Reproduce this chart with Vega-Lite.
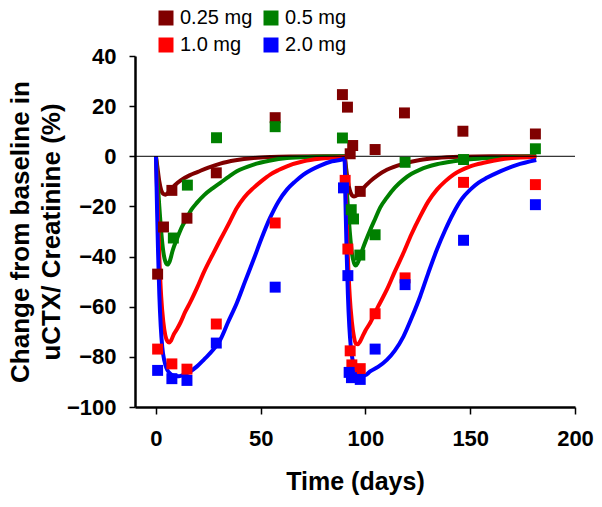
{
  "$schema": "https://vega.github.io/schema/vega-lite/v6.json",
  "autosize": {"type": "none"},
  "width": 440,
  "height": 351,
  "padding": {"left": 135, "top": 56, "right": 27, "bottom": 100},
  "background": "white",
  "config": {
    "view": {"stroke": null},
    "font": "Liberation Sans",
    "axis": {
      "grid": false,
      "domainColor": "black",
      "domainWidth": 2.5,
      "tickColor": "black",
      "tickWidth": 1.5,
      "labelColor": "black",
      "labelFont": "Liberation Sans",
      "labelFontWeight": "bold",
      "labelFontSize": 22,
      "titleFont": "Liberation Sans",
      "titleFontWeight": "bold",
      "titleColor": "black",
      "labelFlush": false,
      "labelOverlap": false
    }
  },
  "datasets": {
    "pts": [
      {"dose": "0.25 mg", "day": 0.8, "pct": -47},
      {"dose": "0.25 mg", "day": 3.6, "pct": -28.2},
      {"dose": "0.25 mg", "day": 7.6, "pct": -13.6},
      {"dose": "0.25 mg", "day": 14.8, "pct": -24.7},
      {"dose": "0.25 mg", "day": 28.8, "pct": -6.6},
      {"dose": "0.25 mg", "day": 56.9, "pct": 15.4},
      {"dose": "0.25 mg", "day": 89, "pct": 24.6},
      {"dose": "0.25 mg", "day": 91.4, "pct": 19.6},
      {"dose": "0.25 mg", "day": 93.9, "pct": 4.3},
      {"dose": "0.25 mg", "day": 92.7, "pct": 1},
      {"dose": "0.25 mg", "day": 97.5, "pct": -14},
      {"dose": "0.25 mg", "day": 104.6, "pct": 2.7},
      {"dose": "0.25 mg", "day": 118.6, "pct": 17.3},
      {"dose": "0.25 mg", "day": 146.5, "pct": 10},
      {"dose": "0.25 mg", "day": 181.1, "pct": 8.9},
      {"dose": "0.5 mg", "day": 8.3, "pct": -32.6},
      {"dose": "0.5 mg", "day": 15, "pct": -11.5},
      {"dose": "0.5 mg", "day": 28.9, "pct": 7.4},
      {"dose": "0.5 mg", "day": 56.9, "pct": 11.8},
      {"dose": "0.5 mg", "day": 89, "pct": 7.3},
      {"dose": "0.5 mg", "day": 93.2, "pct": -21.3},
      {"dose": "0.5 mg", "day": 94.3, "pct": -25},
      {"dose": "0.5 mg", "day": 97.3, "pct": -39.4},
      {"dose": "0.5 mg", "day": 104.6, "pct": -31.3},
      {"dose": "0.5 mg", "day": 118.9, "pct": -2.4},
      {"dose": "0.5 mg", "day": 146.8, "pct": -1.3},
      {"dose": "0.5 mg", "day": 181.1, "pct": 3},
      {"dose": "1.0 mg", "day": 0.8, "pct": -76.9},
      {"dose": "1.0 mg", "day": 7.6, "pct": -82.8},
      {"dose": "1.0 mg", "day": 14.8, "pct": -84.9},
      {"dose": "1.0 mg", "day": 28.8, "pct": -66.9},
      {"dose": "1.0 mg", "day": 56.9, "pct": -26.6},
      {"dose": "1.0 mg", "day": 90.3, "pct": -9.6},
      {"dose": "1.0 mg", "day": 91.6, "pct": -37},
      {"dose": "1.0 mg", "day": 92.7, "pct": -77.6},
      {"dose": "1.0 mg", "day": 93.5, "pct": -83.2},
      {"dose": "1.0 mg", "day": 97.5, "pct": -84.7},
      {"dose": "1.0 mg", "day": 104.6, "pct": -62.8},
      {"dose": "1.0 mg", "day": 118.9, "pct": -48.5},
      {"dose": "1.0 mg", "day": 146.8, "pct": -10.4},
      {"dose": "1.0 mg", "day": 181.1, "pct": -11.3},
      {"dose": "2.0 mg", "day": 0.8, "pct": -85.4},
      {"dose": "2.0 mg", "day": 7.6, "pct": -88.7},
      {"dose": "2.0 mg", "day": 14.8, "pct": -89.4},
      {"dose": "2.0 mg", "day": 28.8, "pct": -74.5},
      {"dose": "2.0 mg", "day": 56.9, "pct": -52.2},
      {"dose": "2.0 mg", "day": 89.5, "pct": -12.6},
      {"dose": "2.0 mg", "day": 91.6, "pct": -47.6},
      {"dose": "2.0 mg", "day": 92.2, "pct": -86.2},
      {"dose": "2.0 mg", "day": 93.3, "pct": -88.3},
      {"dose": "2.0 mg", "day": 97.5, "pct": -89},
      {"dose": "2.0 mg", "day": 104.6, "pct": -76.9},
      {"dose": "2.0 mg", "day": 118.9, "pct": -51.2},
      {"dose": "2.0 mg", "day": 146.8, "pct": -33.5},
      {"dose": "2.0 mg", "day": 181.1, "pct": -19.3}
    ],
    "fit": [
      {"dose": "0.25 mg", "day": 0, "pct": 0},
      {"dose": "0.25 mg", "day": 0.8, "pct": -5},
      {"dose": "0.25 mg", "day": 1.6, "pct": -10},
      {"dose": "0.25 mg", "day": 2.5, "pct": -13.5},
      {"dose": "0.25 mg", "day": 3.5, "pct": -15},
      {"dose": "0.25 mg", "day": 4.5, "pct": -15.3},
      {"dose": "0.25 mg", "day": 5.5, "pct": -14.8},
      {"dose": "0.25 mg", "day": 7, "pct": -13.3},
      {"dose": "0.25 mg", "day": 9, "pct": -11.5},
      {"dose": "0.25 mg", "day": 12, "pct": -9.5},
      {"dose": "0.25 mg", "day": 16, "pct": -7.6},
      {"dose": "0.25 mg", "day": 20, "pct": -6.2},
      {"dose": "0.25 mg", "day": 25, "pct": -4.5},
      {"dose": "0.25 mg", "day": 30.7, "pct": -2.9},
      {"dose": "0.25 mg", "day": 38, "pct": -1.6},
      {"dose": "0.25 mg", "day": 46.6, "pct": -0.7},
      {"dose": "0.25 mg", "day": 55, "pct": -0.3},
      {"dose": "0.25 mg", "day": 65, "pct": -0.1},
      {"dose": "0.25 mg", "day": 80, "pct": 0},
      {"dose": "0.25 mg", "day": 90, "pct": 0},
      {"dose": "0.25 mg", "day": 90.8, "pct": -5},
      {"dose": "0.25 mg", "day": 91.6, "pct": -10},
      {"dose": "0.25 mg", "day": 92.5, "pct": -13.5},
      {"dose": "0.25 mg", "day": 93.5, "pct": -15.5},
      {"dose": "0.25 mg", "day": 94.5, "pct": -16},
      {"dose": "0.25 mg", "day": 96, "pct": -15.5},
      {"dose": "0.25 mg", "day": 98, "pct": -13.5},
      {"dose": "0.25 mg", "day": 100, "pct": -11.8},
      {"dose": "0.25 mg", "day": 102.2, "pct": -10},
      {"dose": "0.25 mg", "day": 106, "pct": -7.5},
      {"dose": "0.25 mg", "day": 110.2, "pct": -5.4},
      {"dose": "0.25 mg", "day": 118.1, "pct": -3},
      {"dose": "0.25 mg", "day": 126, "pct": -1.5},
      {"dose": "0.25 mg", "day": 134, "pct": -0.7},
      {"dose": "0.25 mg", "day": 145, "pct": -0.2},
      {"dose": "0.25 mg", "day": 160, "pct": 0},
      {"dose": "0.25 mg", "day": 181.5, "pct": 0},
      {"dose": "0.5 mg", "day": 0, "pct": 0},
      {"dose": "0.5 mg", "day": 0.8, "pct": -10},
      {"dose": "0.5 mg", "day": 1.6, "pct": -20},
      {"dose": "0.5 mg", "day": 2.5, "pct": -30},
      {"dose": "0.5 mg", "day": 3.5, "pct": -38},
      {"dose": "0.5 mg", "day": 4.5, "pct": -42},
      {"dose": "0.5 mg", "day": 5.5, "pct": -43.2},
      {"dose": "0.5 mg", "day": 6.5, "pct": -42},
      {"dose": "0.5 mg", "day": 8, "pct": -37.5},
      {"dose": "0.5 mg", "day": 10, "pct": -33},
      {"dose": "0.5 mg", "day": 12.5, "pct": -28},
      {"dose": "0.5 mg", "day": 14.8, "pct": -24.5},
      {"dose": "0.5 mg", "day": 17, "pct": -21.2},
      {"dose": "0.5 mg", "day": 19.6, "pct": -18.5},
      {"dose": "0.5 mg", "day": 23, "pct": -15.5},
      {"dose": "0.5 mg", "day": 27.5, "pct": -12.5},
      {"dose": "0.5 mg", "day": 30.7, "pct": -10.6},
      {"dose": "0.5 mg", "day": 35, "pct": -8},
      {"dose": "0.5 mg", "day": 38.6, "pct": -6},
      {"dose": "0.5 mg", "day": 46.6, "pct": -3.3},
      {"dose": "0.5 mg", "day": 54, "pct": -1.8},
      {"dose": "0.5 mg", "day": 62.5, "pct": -0.7},
      {"dose": "0.5 mg", "day": 75, "pct": -0.2},
      {"dose": "0.5 mg", "day": 90, "pct": 0},
      {"dose": "0.5 mg", "day": 90.8, "pct": -10},
      {"dose": "0.5 mg", "day": 91.6, "pct": -20},
      {"dose": "0.5 mg", "day": 92.5, "pct": -30},
      {"dose": "0.5 mg", "day": 93.5, "pct": -38.5},
      {"dose": "0.5 mg", "day": 94.5, "pct": -42.5},
      {"dose": "0.5 mg", "day": 95.3, "pct": -43.6},
      {"dose": "0.5 mg", "day": 96.3, "pct": -42.5},
      {"dose": "0.5 mg", "day": 98, "pct": -38.5},
      {"dose": "0.5 mg", "day": 100, "pct": -34},
      {"dose": "0.5 mg", "day": 102.2, "pct": -29.5},
      {"dose": "0.5 mg", "day": 104.6, "pct": -25},
      {"dose": "0.5 mg", "day": 107, "pct": -20.5},
      {"dose": "0.5 mg", "day": 110.2, "pct": -16.5},
      {"dose": "0.5 mg", "day": 114, "pct": -12.5},
      {"dose": "0.5 mg", "day": 118.1, "pct": -9.3},
      {"dose": "0.5 mg", "day": 122, "pct": -7},
      {"dose": "0.5 mg", "day": 126.1, "pct": -5.3},
      {"dose": "0.5 mg", "day": 134, "pct": -3.2},
      {"dose": "0.5 mg", "day": 142, "pct": -2},
      {"dose": "0.5 mg", "day": 150, "pct": -1.2},
      {"dose": "0.5 mg", "day": 158, "pct": -0.7},
      {"dose": "0.5 mg", "day": 170, "pct": -0.3},
      {"dose": "0.5 mg", "day": 181.5, "pct": 0},
      {"dose": "1.0 mg", "day": 0, "pct": 0},
      {"dose": "1.0 mg", "day": 0.8, "pct": -20},
      {"dose": "1.0 mg", "day": 1.6, "pct": -40},
      {"dose": "1.0 mg", "day": 2.5, "pct": -56},
      {"dose": "1.0 mg", "day": 3.5, "pct": -66},
      {"dose": "1.0 mg", "day": 4.5, "pct": -71.5},
      {"dose": "1.0 mg", "day": 5.5, "pct": -73.8},
      {"dose": "1.0 mg", "day": 6.3, "pct": -74.3},
      {"dose": "1.0 mg", "day": 7.2, "pct": -73.5},
      {"dose": "1.0 mg", "day": 8.5, "pct": -71},
      {"dose": "1.0 mg", "day": 10, "pct": -69},
      {"dose": "1.0 mg", "day": 11.6, "pct": -66.5},
      {"dose": "1.0 mg", "day": 14, "pct": -62},
      {"dose": "1.0 mg", "day": 16.5, "pct": -58},
      {"dose": "1.0 mg", "day": 19.6, "pct": -52.5},
      {"dose": "1.0 mg", "day": 23, "pct": -46},
      {"dose": "1.0 mg", "day": 27.5, "pct": -38.5},
      {"dose": "1.0 mg", "day": 30.7, "pct": -33.3},
      {"dose": "1.0 mg", "day": 35, "pct": -26.5},
      {"dose": "1.0 mg", "day": 38.6, "pct": -20.6},
      {"dose": "1.0 mg", "day": 42, "pct": -16.5},
      {"dose": "1.0 mg", "day": 46.6, "pct": -12.6},
      {"dose": "1.0 mg", "day": 50.5, "pct": -9.8},
      {"dose": "1.0 mg", "day": 54.5, "pct": -7.3},
      {"dose": "1.0 mg", "day": 58.5, "pct": -5.5},
      {"dose": "1.0 mg", "day": 62.5, "pct": -4},
      {"dose": "1.0 mg", "day": 70.4, "pct": -2},
      {"dose": "1.0 mg", "day": 78, "pct": -1},
      {"dose": "1.0 mg", "day": 86.4, "pct": -0.5},
      {"dose": "1.0 mg", "day": 90, "pct": -0.3},
      {"dose": "1.0 mg", "day": 90.8, "pct": -20},
      {"dose": "1.0 mg", "day": 91.6, "pct": -40},
      {"dose": "1.0 mg", "day": 92.5, "pct": -56},
      {"dose": "1.0 mg", "day": 93.5, "pct": -66},
      {"dose": "1.0 mg", "day": 94.5, "pct": -72},
      {"dose": "1.0 mg", "day": 95.5, "pct": -74.8},
      {"dose": "1.0 mg", "day": 96.3, "pct": -75},
      {"dose": "1.0 mg", "day": 97.3, "pct": -74},
      {"dose": "1.0 mg", "day": 98.5, "pct": -72},
      {"dose": "1.0 mg", "day": 100, "pct": -69.5},
      {"dose": "1.0 mg", "day": 102.2, "pct": -66.5},
      {"dose": "1.0 mg", "day": 106, "pct": -60},
      {"dose": "1.0 mg", "day": 110.2, "pct": -53.2},
      {"dose": "1.0 mg", "day": 114, "pct": -46},
      {"dose": "1.0 mg", "day": 118.1, "pct": -38.6},
      {"dose": "1.0 mg", "day": 122, "pct": -31},
      {"dose": "1.0 mg", "day": 126.1, "pct": -24},
      {"dose": "1.0 mg", "day": 130, "pct": -18},
      {"dose": "1.0 mg", "day": 134.1, "pct": -13.3},
      {"dose": "1.0 mg", "day": 138, "pct": -10},
      {"dose": "1.0 mg", "day": 142, "pct": -7.3},
      {"dose": "1.0 mg", "day": 150, "pct": -4},
      {"dose": "1.0 mg", "day": 157, "pct": -2.5},
      {"dose": "1.0 mg", "day": 164.3, "pct": -1.3},
      {"dose": "1.0 mg", "day": 172, "pct": -0.6},
      {"dose": "1.0 mg", "day": 181.5, "pct": -0.3},
      {"dose": "2.0 mg", "day": 0, "pct": 0},
      {"dose": "2.0 mg", "day": 0.5, "pct": -20},
      {"dose": "2.0 mg", "day": 1, "pct": -38},
      {"dose": "2.0 mg", "day": 1.6, "pct": -55},
      {"dose": "2.0 mg", "day": 2.3, "pct": -68},
      {"dose": "2.0 mg", "day": 3, "pct": -76},
      {"dose": "2.0 mg", "day": 4, "pct": -81.5},
      {"dose": "2.0 mg", "day": 5, "pct": -84.5},
      {"dose": "2.0 mg", "day": 6.5, "pct": -86.5},
      {"dose": "2.0 mg", "day": 8.4, "pct": -87.5},
      {"dose": "2.0 mg", "day": 11, "pct": -87.7},
      {"dose": "2.0 mg", "day": 13.5, "pct": -87},
      {"dose": "2.0 mg", "day": 16, "pct": -86},
      {"dose": "2.0 mg", "day": 19.6, "pct": -83.8},
      {"dose": "2.0 mg", "day": 23, "pct": -81},
      {"dose": "2.0 mg", "day": 27.5, "pct": -77},
      {"dose": "2.0 mg", "day": 30.7, "pct": -73.2},
      {"dose": "2.0 mg", "day": 34.5, "pct": -66},
      {"dose": "2.0 mg", "day": 38.6, "pct": -58.5},
      {"dose": "2.0 mg", "day": 42.5, "pct": -50},
      {"dose": "2.0 mg", "day": 46.6, "pct": -41.2},
      {"dose": "2.0 mg", "day": 50.5, "pct": -32.5},
      {"dose": "2.0 mg", "day": 54.5, "pct": -24.5},
      {"dose": "2.0 mg", "day": 58.5, "pct": -18},
      {"dose": "2.0 mg", "day": 62.5, "pct": -13.3},
      {"dose": "2.0 mg", "day": 66.5, "pct": -10},
      {"dose": "2.0 mg", "day": 70.4, "pct": -7.3},
      {"dose": "2.0 mg", "day": 78.4, "pct": -3.7},
      {"dose": "2.0 mg", "day": 84, "pct": -2},
      {"dose": "2.0 mg", "day": 88.7, "pct": -1.3},
      {"dose": "2.0 mg", "day": 90, "pct": -1},
      {"dose": "2.0 mg", "day": 90.5, "pct": -20},
      {"dose": "2.0 mg", "day": 91, "pct": -38},
      {"dose": "2.0 mg", "day": 91.6, "pct": -55},
      {"dose": "2.0 mg", "day": 92.3, "pct": -68},
      {"dose": "2.0 mg", "day": 93, "pct": -76},
      {"dose": "2.0 mg", "day": 94, "pct": -82},
      {"dose": "2.0 mg", "day": 95, "pct": -85},
      {"dose": "2.0 mg", "day": 96.5, "pct": -87},
      {"dose": "2.0 mg", "day": 98, "pct": -87.5},
      {"dose": "2.0 mg", "day": 100, "pct": -87.3},
      {"dose": "2.0 mg", "day": 102.2, "pct": -85.8},
      {"dose": "2.0 mg", "day": 106, "pct": -84},
      {"dose": "2.0 mg", "day": 110.2, "pct": -81.2},
      {"dose": "2.0 mg", "day": 114, "pct": -77.5},
      {"dose": "2.0 mg", "day": 118.1, "pct": -71.9},
      {"dose": "2.0 mg", "day": 122, "pct": -64.5},
      {"dose": "2.0 mg", "day": 126.1, "pct": -55.9},
      {"dose": "2.0 mg", "day": 130, "pct": -46.5},
      {"dose": "2.0 mg", "day": 134.1, "pct": -37.2},
      {"dose": "2.0 mg", "day": 138, "pct": -29.5},
      {"dose": "2.0 mg", "day": 142, "pct": -22.6},
      {"dose": "2.0 mg", "day": 146, "pct": -17},
      {"dose": "2.0 mg", "day": 150, "pct": -13.3},
      {"dose": "2.0 mg", "day": 154, "pct": -10.5},
      {"dose": "2.0 mg", "day": 157.9, "pct": -8.6},
      {"dose": "2.0 mg", "day": 164.3, "pct": -6},
      {"dose": "2.0 mg", "day": 172, "pct": -3.5},
      {"dose": "2.0 mg", "day": 181.5, "pct": -1.5}
    ],
    "zero": [{"v": 0}]
  },
  "layer": [
    {
      "data": {"name": "fit"},
      "mark": {"type": "line", "strokeWidth": 4, "interpolate": "monotone"},
      "encoding": {
        "x": {
          "field": "day", "type": "quantitative",
          "scale": {"domain": [-10, 200], "nice": false, "zero": false},
          "axis": {"values": [0, 50, 100, 150, 200], "tickSize": 7, "labelPadding": 14, "title": "Time (days)", "titleFontSize": 25, "titlePadding": 20}
        },
        "y": {
          "field": "pct", "type": "quantitative",
          "scale": {"domain": [-100, 40], "nice": false, "zero": false},
          "axis": {"values": [-100, -80, -60, -40, -20, 0, 20, 40], "tickSize": 6, "labelPadding": 13, "title": ["Change from baseline in", "uCTX/ Creatinine (%)"], "titleFontSize": 26, "titleLineHeight": 31, "titlePadding": 2}
        },
        "color": {
          "field": "dose", "type": "nominal",
          "scale": {"domain": ["0.25 mg", "0.5 mg", "1.0 mg", "2.0 mg"], "range": ["#800000", "#008000", "#FF0000", "#0000FF"]},
          "legend": {
            "title": null, "orient": "none", "legendX": 21, "legendY": -48, "columns": 2, "direction": "horizontal",
            "symbolType": "square", "symbolSize": 225, "symbolStrokeWidth": 0, "symbolOpacity": 1,
            "labelFontSize": 20, "labelFont": "Liberation Sans", "labelColor": "black", "labelOffset": 4,
            "columnPadding": 8, "rowPadding": 7, "padding": 0
          }
        }
      }
    },
    {
      "data": {"name": "zero"},
      "mark": {"type": "rule", "color": "black", "strokeWidth": 1},
      "encoding": {"y": {"field": "v", "type": "quantitative"}}
    },
    {
      "data": {"name": "pts"},
      "mark": {"type": "square", "size": 120, "filled": true, "opacity": 1},
      "encoding": {
        "x": {"field": "day", "type": "quantitative"},
        "y": {"field": "pct", "type": "quantitative"},
        "color": {"field": "dose", "type": "nominal"}
      }
    }
  ]
}
